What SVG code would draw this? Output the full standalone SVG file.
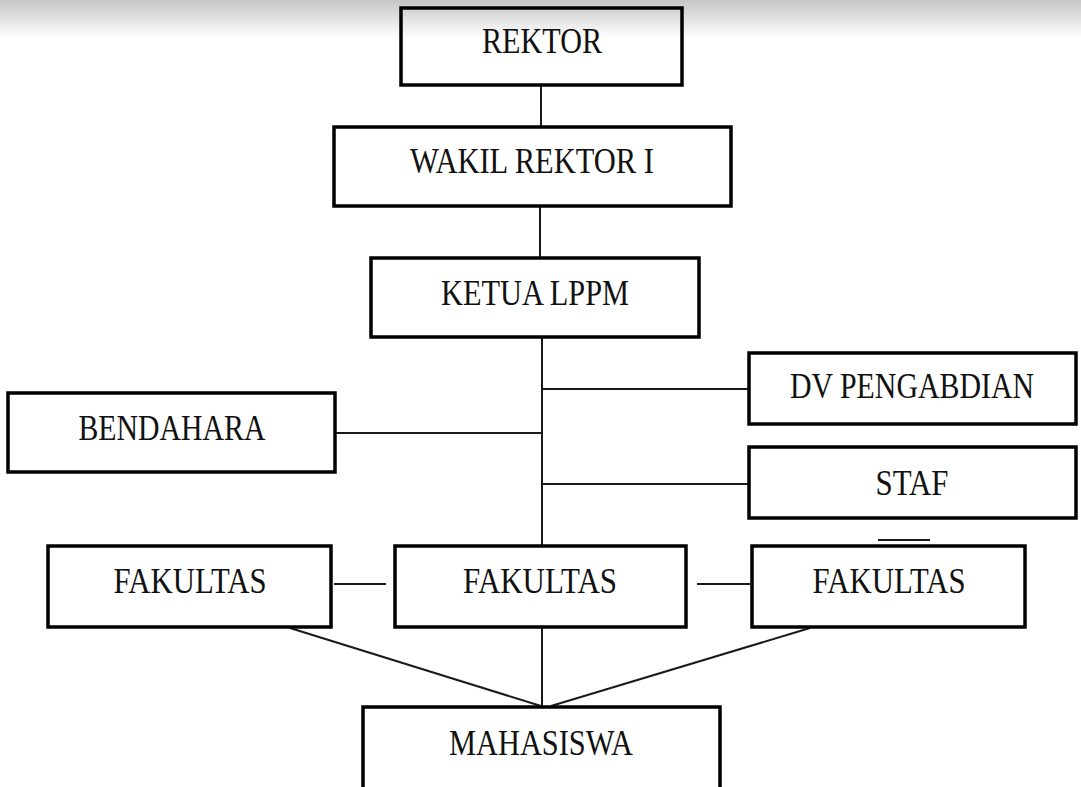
<svg xmlns="http://www.w3.org/2000/svg" width="1081" height="787" viewBox="0 0 1081 787">
<defs>
<linearGradient id="shade" x1="0" y1="0" x2="0" y2="1">
<stop offset="0" stop-color="#c6c6c6"/>
<stop offset="1" stop-color="#ffffff"/>
</linearGradient>
</defs>
<style>
.box{fill:none;stroke:#000;stroke-width:3.5}
.lbl{font-family:"Liberation Serif","Times New Roman",serif;font-size:36px;fill:#111;text-anchor:middle}
.con{stroke:#1a1a1a;stroke-width:2;fill:none}
</style>
<rect x="0" y="0" width="1081" height="787" fill="#fff"/>
<rect x="0" y="0" width="1081" height="38" fill="url(#shade)"/>
<g id="connectors">
<line class="con" x1="541" y1="85" x2="541" y2="128"/>
<line class="con" x1="540" y1="206" x2="540" y2="258"/>
<line class="con" x1="542" y1="337" x2="542" y2="546"/>
<line class="con" x1="542" y1="389" x2="749" y2="389"/>
<line class="con" x1="335" y1="433" x2="542" y2="433"/>
<line class="con" x1="542" y1="484" x2="749" y2="484"/>
<line class="con" x1="878" y1="540" x2="930" y2="540"/>
<line class="con" x1="334" y1="584" x2="386" y2="584"/>
<line class="con" x1="697" y1="584" x2="750" y2="584"/>
<line class="con" x1="290" y1="628" x2="541" y2="706"/>
<line class="con" x1="542" y1="627" x2="542" y2="706"/>
<line class="con" x1="810" y1="628" x2="551" y2="706"/>
</g>
<g id="rektor">
<rect class="box" x="401" y="8" width="281" height="77"/>
<text class="lbl" x="542" y="53" textLength="120" lengthAdjust="spacingAndGlyphs">REKTOR</text>
</g>
<g id="wakil-rektor">
<rect class="box" x="334" y="127" width="397" height="79"/>
<text class="lbl" x="532" y="173" textLength="244" lengthAdjust="spacingAndGlyphs">WAKIL REKTOR I</text>
</g>
<g id="ketua-lppm">
<rect class="box" x="371" y="258" width="328" height="79"/>
<text class="lbl" x="535" y="305" textLength="188" lengthAdjust="spacingAndGlyphs">KETUA LPPM</text>
</g>
<g id="dv-pengabdian">
<rect class="box" x="749" y="353" width="327" height="71"/>
<text class="lbl" x="912" y="398" textLength="244" lengthAdjust="spacingAndGlyphs">DV PENGABDIAN</text>
</g>
<g id="bendahara">
<rect class="box" x="8" y="393" width="327" height="79"/>
<text class="lbl" x="172" y="440" textLength="187" lengthAdjust="spacingAndGlyphs">BENDAHARA</text>
</g>
<g id="staf">
<rect class="box" x="749" y="447" width="327" height="71"/>
<text class="lbl" x="912" y="495" textLength="73" lengthAdjust="spacingAndGlyphs">STAF</text>
</g>
<g id="fakultas-1">
<rect class="box" x="48" y="546" width="283" height="81"/>
<text class="lbl" x="190" y="593" textLength="153" lengthAdjust="spacingAndGlyphs">FAKULTAS</text>
</g>
<g id="fakultas-2">
<rect class="box" x="395" y="546" width="291" height="81"/>
<text class="lbl" x="540" y="593" textLength="154" lengthAdjust="spacingAndGlyphs">FAKULTAS</text>
</g>
<g id="fakultas-3">
<rect class="box" x="752" y="546" width="273" height="81"/>
<text class="lbl" x="889" y="593" textLength="153" lengthAdjust="spacingAndGlyphs">FAKULTAS</text>
</g>
<g id="mahasiswa">
<rect class="box" x="363" y="707" width="357" height="90"/>
<text class="lbl" x="541" y="755" textLength="184" lengthAdjust="spacingAndGlyphs">MAHASISWA</text>
</g>
</svg>
